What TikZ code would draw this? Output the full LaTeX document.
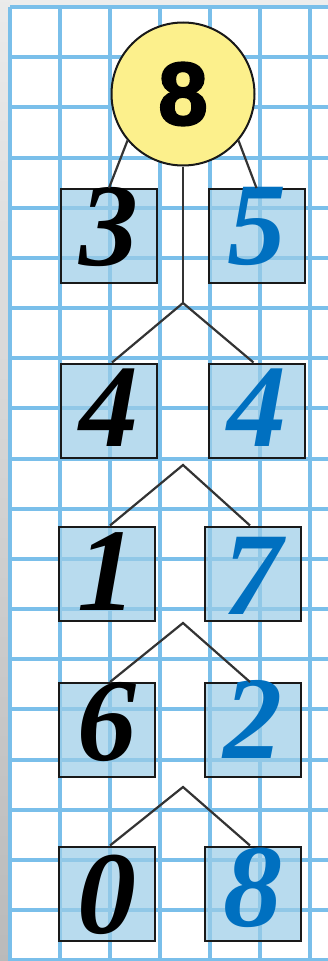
\documentclass[tikz,border=0pt]{standalone}
\usepackage{fontspec}
\setmainfont{Liberation Serif}
\newfontfamily\circfont[BoldFeatures={FakeBold=2.5}]{Liberation Sans}
\usetikzlibrary{calc}
\definecolor{gridblue}{RGB}{122,191,234}
\definecolor{cellblue}{RGB}{155,205,231}
\definecolor{numblue}{RGB}{0,112,192}
\definecolor{sunyellow}{RGB}{252,240,140}

\begin{document}
\begin{tikzpicture}[x=1pt,y=-1pt,
  cell/.style={draw=black!90,line width=2pt,fill=cellblue,fill opacity=0.7,minimum width=96pt,minimum height=94pt,inner sep=0pt},
  digit/.style={inner sep=0pt,font=\fontsize{118}{118}\selectfont\bfseries\itshape},
  link/.style={draw=black!80,line width=2.2pt}]
\useasboundingbox (0,0) rectangle (328,961);
% paper and grid
\fill[white] (0,0) rectangle (328,961);\fill[black!7] (0,0) rectangle (328,7);
\shade[top color=black!8,bottom color=black!27] (0,0) rectangle (10,961);
\foreach \x in {10,60,...,310}{\draw[gridblue,line width=4pt] (\x,7)--(\x,961);}
\foreach \k in {0,...,19}{\draw[gridblue,line width=4pt] (10,7+50.17*\k)--(328,7+50.17*\k);}
% whole and parts
\node[circle,draw=black!90,line width=2pt,fill=sunyellow,minimum size=143pt,inner sep=0pt,font=\circfont\bfseries\fontsize{89}{89}\selectfont] (whole) at (183,94){8};
\foreach \xl/\xr/\y/\a/\b/\dl/\dr [count=\i] in {109/256.5/236/3/5/9/10, 109/256.5/410.5/4/4/2.5/2.5, 107/253/573.5/1/7/1.5/-2.5, 107/253/730/6/2/8/10.5, 107/253/893.5/0/8/-1.5/5.5}{
  \node[cell] (l\i) at (\xl,\y){};\node[cell] (r\i) at (\xr,\y){};
  \node[digit] (nl\i) at ([yshift=\dl pt]l\i.center){\a};\node[digit,text=numblue] (nr\i) at ([yshift=\dr pt]r\i.center){\b};}
% forks
\foreach \y [count=\i] in {303,465,623,787}{\coordinate (fork\i) at (183,\y);}
\draw[link] (whole.220)--(l1.north);\draw[link] (whole.-40)--(r1.north);\draw[link] (whole.south)--(fork1);
\foreach \i [evaluate=\i as \j using int(\i+1)] in {1,...,4}{\draw[link] ($(l\j.north)+(3,0)$)--(fork\i)--($(r\j.north)+(-3,0)$);}
\end{tikzpicture}
\end{document}
